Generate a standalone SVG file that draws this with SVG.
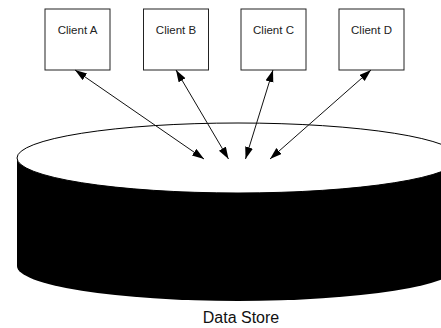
<svg xmlns="http://www.w3.org/2000/svg" width="441" height="328" viewBox="0 0 441 328">
  <style>
    .box { fill: #ffffff; stroke: #222222; stroke-width: 1; }
    .lbl { font-family: "Liberation Sans", Arial, sans-serif; font-size: 11.5px; fill: #222222; text-anchor: middle; }
    .big { font-family: "Liberation Sans", Arial, sans-serif; font-size: 16px; fill: #111111; text-anchor: middle; }
    .conn { stroke: #111111; stroke-width: 1; fill: none; marker-start: url(#ah); marker-end: url(#ah); }
  </style>
  <defs>
    <marker id="ah" markerUnits="userSpaceOnUse" markerWidth="13" markerHeight="9" refX="12" refY="4" orient="auto-start-reverse">
      <path d="M0,0 L12,4 L0,8 Z" fill="#000000"/>
    </marker>
  </defs>
  <rect width="441" height="328" fill="#ffffff"/>

  <g id="datastore">
    <path d="M17,158 L17,266 A221,35 0 0 0 459,266 L459,158 Z" fill="#000000"/>
    <ellipse cx="238" cy="158" rx="221" ry="35" fill="#ffffff" stroke="#000000" stroke-width="1"/>
    <text class="big" x="241" y="323">Data Store</text>
  </g>

  <g id="clientA">
    <rect class="box" x="45" y="9" width="65" height="61"/>
    <text class="lbl" x="77.5" y="34">Client A</text>
  </g>
  <g id="clientB">
    <rect class="box" x="143.5" y="9" width="65" height="61"/>
    <text class="lbl" x="176" y="34">Client B</text>
  </g>
  <g id="clientC">
    <rect class="box" x="241" y="9" width="65" height="61"/>
    <text class="lbl" x="273.5" y="34">Client C</text>
  </g>
  <g id="clientD">
    <rect class="box" x="339" y="9" width="65" height="61"/>
    <text class="lbl" x="371.5" y="34">Client D</text>
  </g>

  <g id="connectors">
    <line class="conn" x1="75" y1="70" x2="204" y2="159"/>
    <line class="conn" x1="176" y1="70" x2="228.5" y2="159"/>
    <line class="conn" x1="273" y1="70" x2="245.5" y2="159"/>
    <line class="conn" x1="371" y1="70" x2="270" y2="159"/>
  </g>
</svg>
